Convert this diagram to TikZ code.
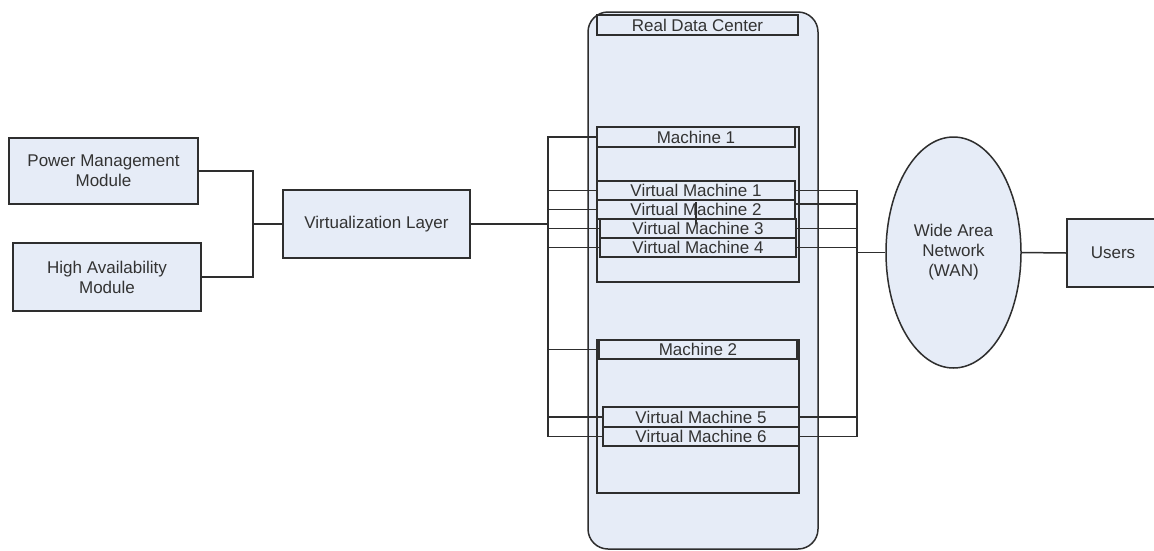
\documentclass[tikz,border=0pt]{standalone}
\usepackage{fontspec}
\setmainfont{Liberation Sans}
\usetikzlibrary{shapes.geometric,calc}
\definecolor{boxfill}{HTML}{E6ECF7}
\definecolor{edge}{HTML}{2E2E2E}
\definecolor{txt}{HTML}{333333}
\begin{document}
\begin{tikzpicture}[x=1pt,y=-1pt,
 box/.style={draw=edge, line width=1.5pt, fill=boxfill, inner sep=0pt, text=txt,
   font=\fontsize{17}{20}\selectfont, align=center},
 wire/.style={draw=edge, line width=1.5pt}]
\useasboundingbox (0,0) rectangle (1154,550);
\fill[white] (0,0) rectangle (1154,550);

% left modules
\node[box, minimum width=189pt, minimum height=66pt] (pm) at (103.5,171) {Power Management\\Module};
\node[box, minimum width=188pt, minimum height=68pt] (ha) at (107,277) {High Availability\\Module};
\node[box, minimum width=187pt, minimum height=68pt] (vl) at (376.5,224) {Virtualization Layer};

% data center
\node[box, rounded corners=20pt, minimum width=230pt, minimum height=537pt] (dc) at (703,280.5) {};
\node[box, minimum width=201pt, minimum height=20pt] (rdc) at (697.5,25) {Real Data Center};

\node[box, minimum width=202pt, minimum height=155pt] (m1) at (698,204.5) {};
\node[box, minimum width=198pt, minimum height=20pt] (m1l) at (696,137) {Machine 1};
\node[box, minimum width=198pt, minimum height=19pt] (vm1) at (696,190.5) {Virtual Machine 1};
\node[box, minimum width=198pt, minimum height=19pt] (vm2) at (696,209.5) {Virtual Machine 2};
\node[box, minimum width=196pt, minimum height=19pt] (vm3) at (698,228.5) {Virtual Machine 3};
\node[box, minimum width=196pt, minimum height=19pt] (vm4) at (698,247.5) {Virtual Machine 4};

\node[box, minimum width=202pt, minimum height=153pt] (m2) at (698,416.5) {};
\node[box, minimum width=198pt, minimum height=19pt] (m2l) at (698,349.5) {Machine 2};
\node[box, minimum width=196pt, minimum height=20pt] (vm5) at (701,417) {Virtual Machine 5};
\node[box, minimum width=196pt, minimum height=19pt] (vm6) at (701,436.5) {Virtual Machine 6};

\draw[draw=edge, line width=2.4pt] ([yshift=7.5pt]vm2.center) -- ([yshift=-14.5pt]vm2.center);

% WAN and users
\node[box, ellipse, minimum width=135pt, minimum height=231pt] (wan) at (953.5,252.5) {Wide Area\\Network\\(WAN)};
\node[box, minimum width=92pt, minimum height=68pt] (users) at (1113,253) {Users};

% left connectors
\coordinate (jl) at (253,224);
\draw[wire] (pm.east) -| (jl) |- (ha.east);
\draw[wire] (jl) -- (vl.west);

\coordinate (lb) at (548,0);
\draw[wire] (m1l.west) -- (m1l.west -| lb) -- (vm6.west -| lb) -- (vm6.west);
\foreach \n in {vm1,vm2,vm3,vm4,m2l,vm5}
  \draw[wire] (\n.west) -- (\n.west -| lb);
\draw[wire] (vl.east) -- (vl.east -| lb);

% right connectors
\coordinate (rb) at (857,0);
\draw[wire] (vm1.east) -- (vm1.east -| rb) -- (vm6.east -| rb) -- (vm6.east);
\draw[wire] ([yshift=5.5pt]vm2.east) coordinate (v2r) -- (v2r -| rb);
\foreach \n in {vm3,vm4,vm5}
  \draw[wire] (\n.east) -- (\n.east -| rb);
\draw[wire] (wan.west) -- (wan.west -| rb);
\draw[wire] (wan.east) -- (users.west);
\end{tikzpicture}
\end{document}
